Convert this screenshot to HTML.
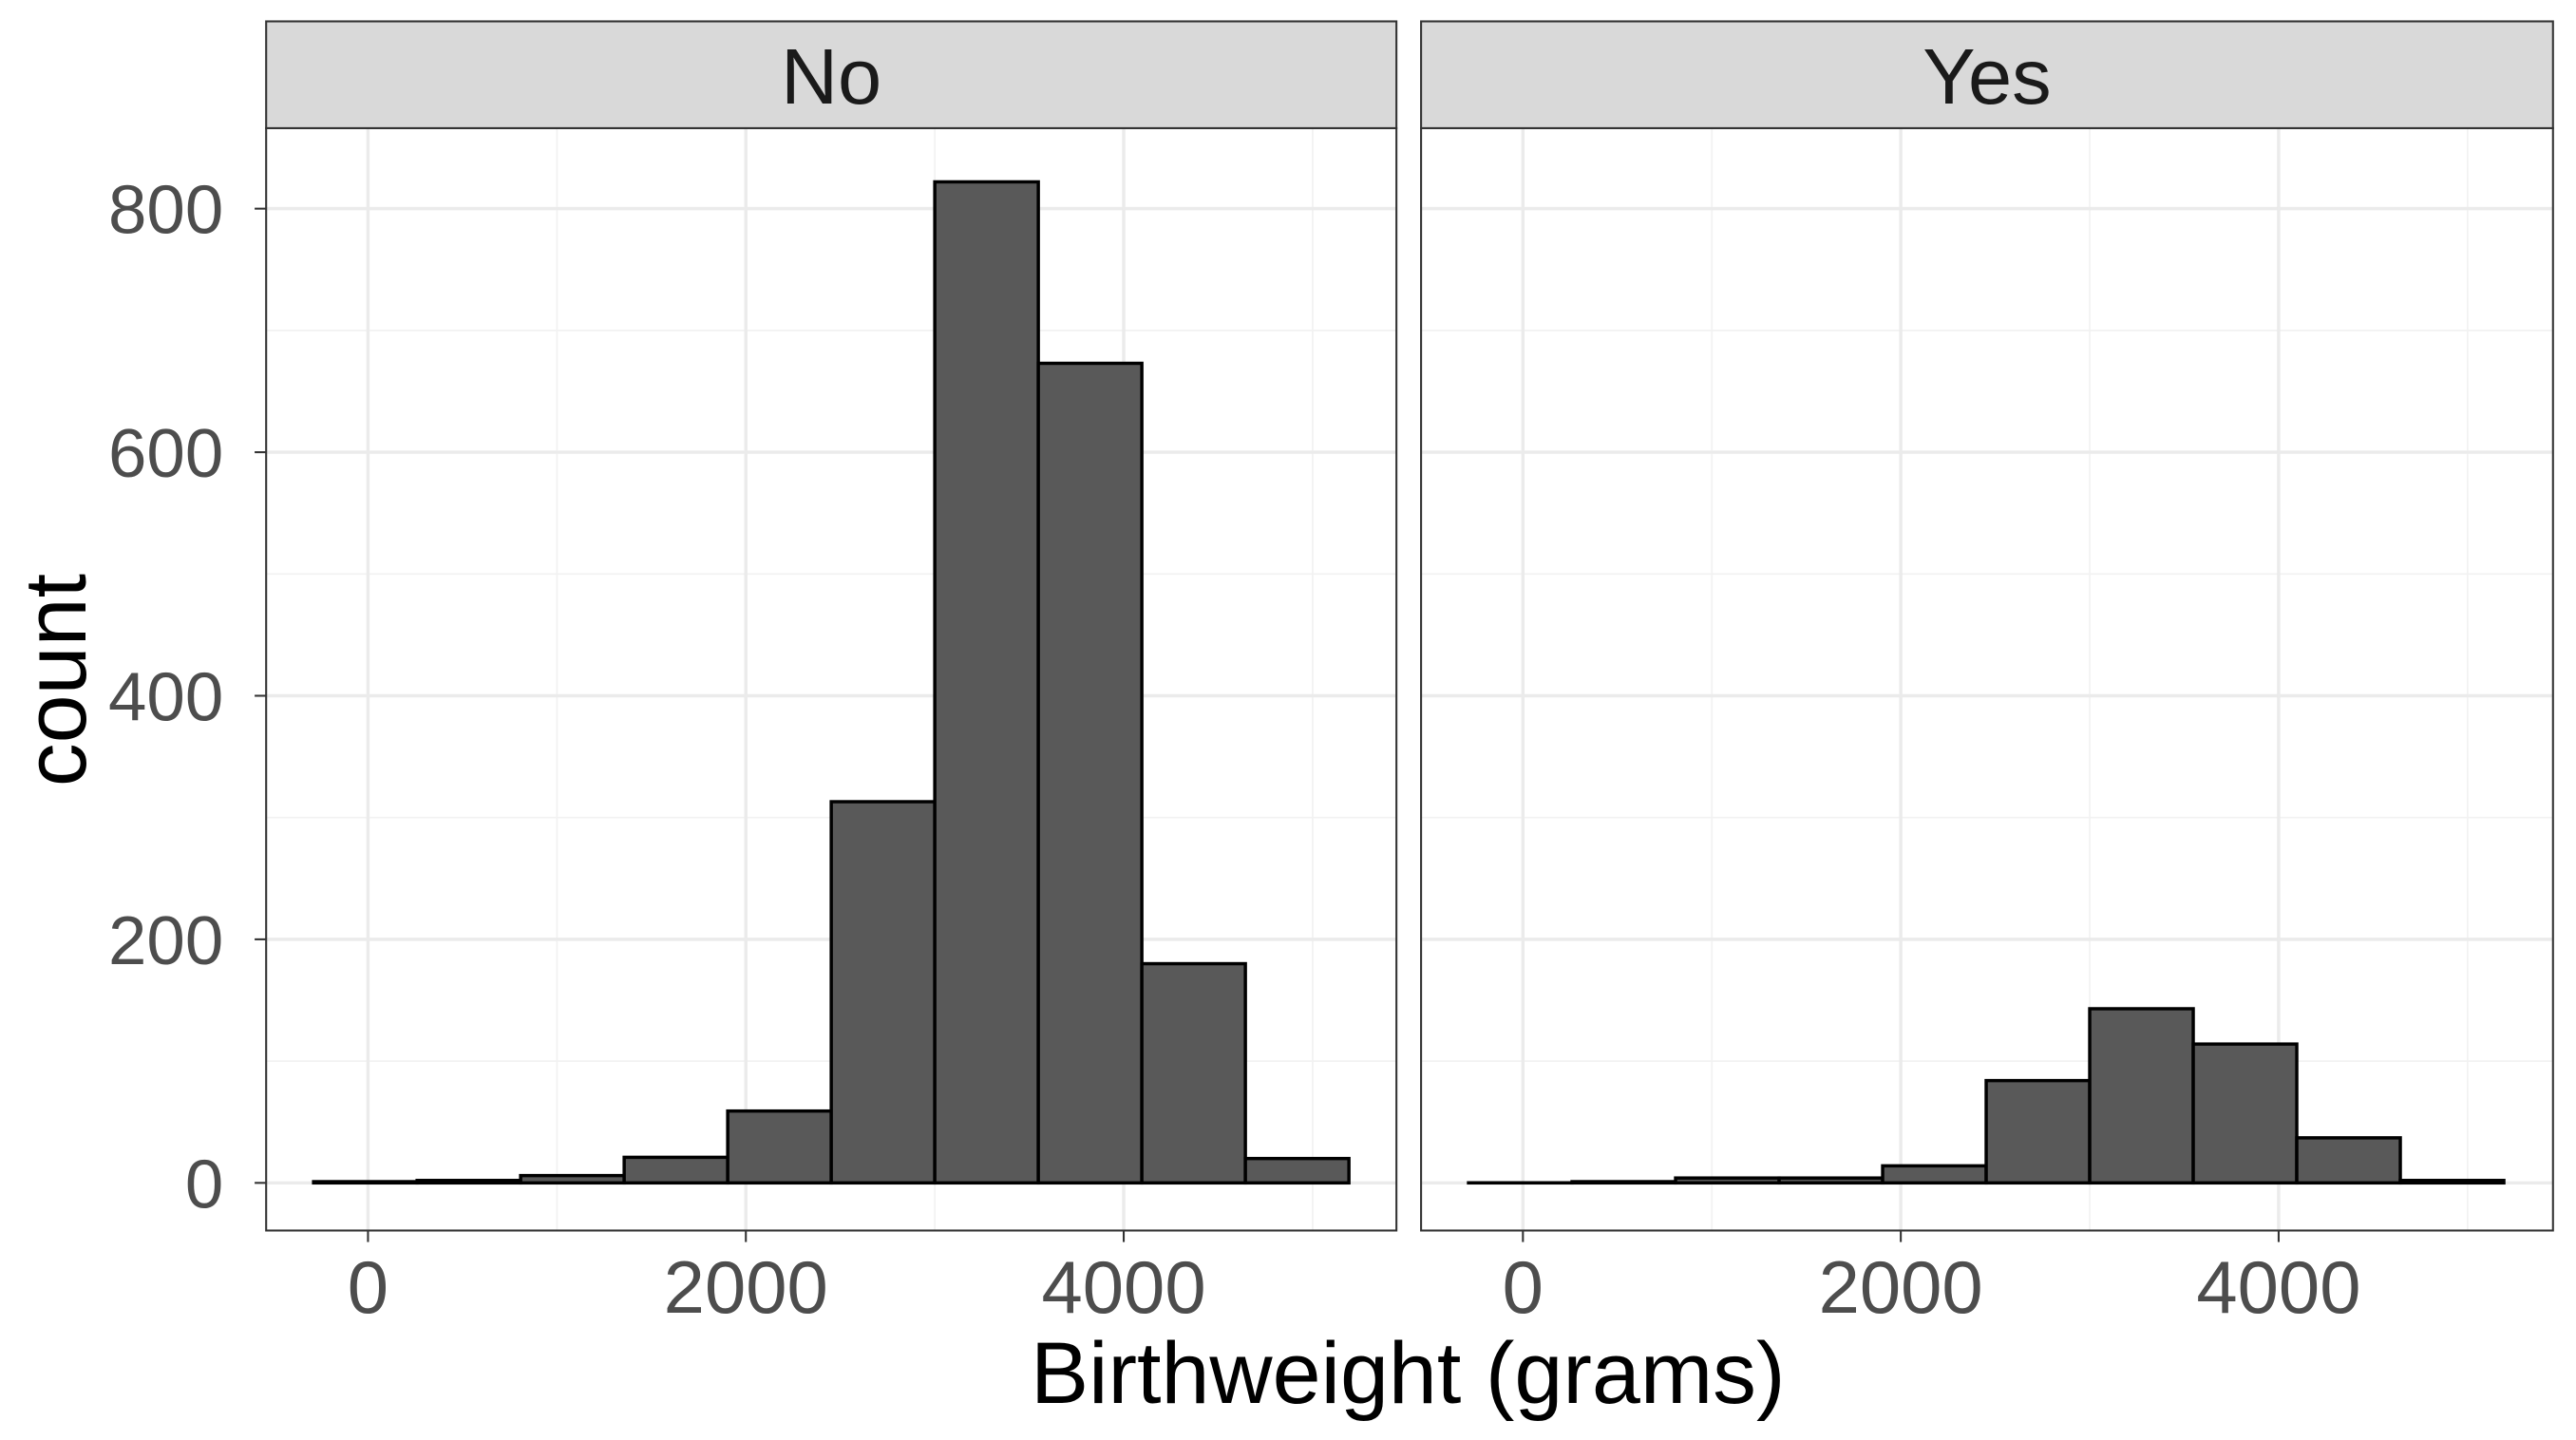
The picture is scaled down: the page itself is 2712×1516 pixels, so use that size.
<!DOCTYPE html>
<html><head><meta charset="utf-8"><style>html,body{margin:0;padding:0;background:#fff}svg{display:block}</style></head>
<body>
<svg id="chart" xmlns="http://www.w3.org/2000/svg" width="2712" height="1516" viewBox="0 0 1568 876.5" font-family="Liberation Sans, Arial, sans-serif"></svg>
<script>
const binEdges = [-288, 260, 808, 1356, 1904, 2452, 3000, 3548, 4096, 4644, 5192];
const panels = ["No", "Yes"];
const countsNo = [1, 2, 6, 21, 59, 313, 822, 673, 180, 20];
const countsYes = [0, 1, 4, 4, 14, 84, 143, 114, 37, 2];
const xTicks = [0, 2000, 4000];
const yTicks = [0, 200, 400, 600, 800];

const svg = document.getElementById('chart');
const NS = 'http://www.w3.org/2000/svg';
function mk(tag, attrs, parent) {
  const e = document.createElementNS(NS, tag);
  for (const k in attrs) e.setAttribute(k, attrs[k]);
  (parent || svg).appendChild(e);
  return e;
}
const panelBox = [{x0:162, x1:850}, {x0:865, x1:1554}];
const plotTop = 78, plotBottom = 749, stripTop = 13;
const yScale = v => 720 - v * (593 / 800);
const allCounts = [countsNo, countsYes];

panels.forEach((name, p) => {
  const box = panelBox[p];
  const xScale = v => box.x0 + 62 + v * 0.115;
  const g = mk('g', {});
  
  
  mk('rect', {x: box.x0, y: plotTop, width: box.x1 - box.x0, height: plotBottom - plotTop, fill: '#fff'}, g);
  for (let i = 0; i < yTicks.length - 1; i++) {
    const y = yScale((yTicks[i] + yTicks[i + 1]) / 2);
    mk('line', {x1: box.x0, x2: box.x1, y1: y, y2: y, stroke: '#f2f2f2', 'stroke-width': 1}, g);
  }
  mk('line', {x1: box.x0, x2: box.x1, y1: yScale(900), y2: yScale(900), stroke: '#f2f2f2', 'stroke-width': 1}, g);
  [-1000, 1000, 3000, 5000].forEach(v => {
    const x = xScale(v);
    if (x > box.x0 && x < box.x1) mk('line', {x1: x, x2: x, y1: plotTop, y2: plotBottom, stroke: '#f2f2f2', 'stroke-width': 1}, g);
  });
  yTicks.forEach(v => mk('line', {x1: box.x0, x2: box.x1, y1: yScale(v), y2: yScale(v), stroke: '#ebebeb', 'stroke-width': 2}, g));
  xTicks.forEach(v => mk('line', {x1: xScale(v), x2: xScale(v), y1: plotTop, y2: plotBottom, stroke: '#ebebeb', 'stroke-width': 2}, g));
  allCounts[p].forEach((c, i) => {
    const x0 = xScale(binEdges[i]), x1 = xScale(binEdges[i + 1]);
    const h = Math.max(yScale(0) - yScale(c), 0.05);
    const r = mk('rect', {x: x0, y: yScale(0) - h, width: x1 - x0, height: h, fill: '#595959', stroke: '#000', 'stroke-width': 2}, g);
    
    
  });
  mk('rect', {x: box.x0, y: plotTop, width: box.x1 - box.x0, height: plotBottom - plotTop, fill: 'none', stroke: '#333', 'stroke-width': 1.2}, g);
  mk('rect', {x: box.x0, y: stripTop, width: box.x1 - box.x0, height: plotTop - stripTop, fill: '#d9d9d9', stroke: '#333', 'stroke-width': 1.2}, g);
  const st = mk('text', {x: (box.x0 + box.x1) / 2, y: 63, 'text-anchor': 'middle', 'font-size': 48, fill: '#1a1a1a'}, g);
  st.textContent = name;
  
  
  xTicks.forEach(v => {
    mk('line', {x1: xScale(v), x2: xScale(v), y1: plotBottom, y2: plotBottom + 7, stroke: '#333', 'stroke-width': 1.2}, g);
    const t = mk('text', {x: xScale(v), y: 799, 'text-anchor': 'middle', 'font-size': 45, fill: '#4d4d4d'}, g);
    t.textContent = v;
    
    
  });
});
yTicks.forEach(v => {
  mk('line', {x1: 155, x2: 162, y1: yScale(v), y2: yScale(v), stroke: '#333', 'stroke-width': 1.2});
  const t = mk('text', {x: 136, y: yScale(v) + 15, 'text-anchor': 'end', 'font-size': 42, fill: '#4d4d4d'});
  t.textContent = v;
  
  
});
const xt = mk('text', {x: 857, y: 854, 'text-anchor': 'middle', 'font-size': 53, fill: '#000'});
xt.textContent = 'Birthweight (grams)';


const yt = mk('text', {x: 0, y: 0, 'text-anchor': 'middle', 'font-size': 53, fill: '#000', transform: 'translate(52,414) rotate(-90)'});
yt.textContent = 'count';


</script>
</body></html>
